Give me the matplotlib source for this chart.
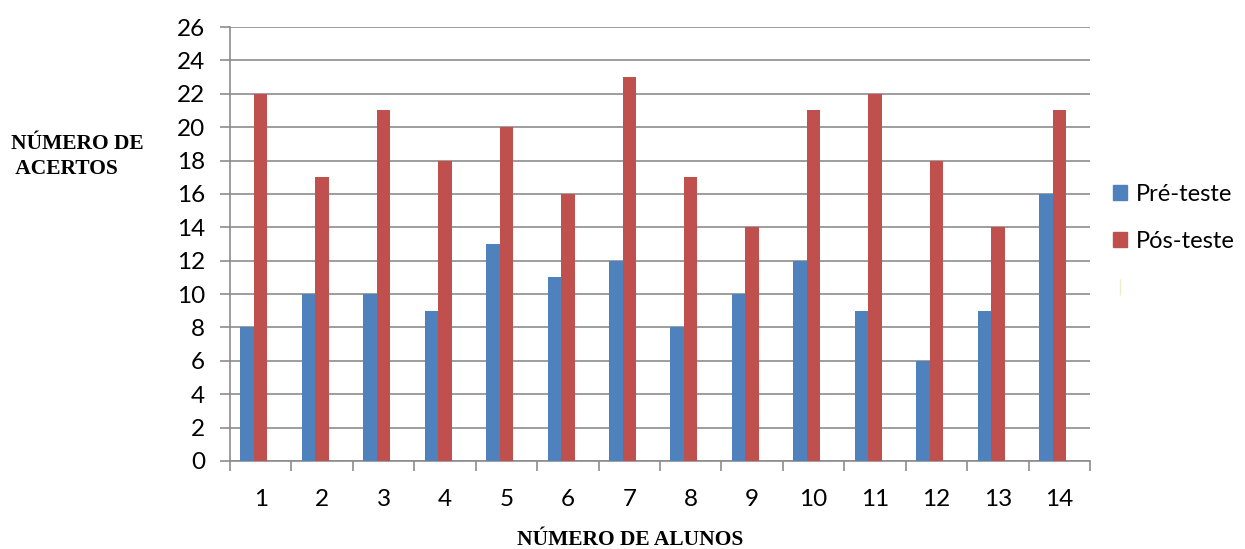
import matplotlib.pyplot as plt
from matplotlib.patches import Patch
from matplotlib.lines import Line2D

# data
alunos = list(range(1, 15))
pre_teste = [8, 10, 10, 9, 13, 11, 12, 8, 10, 12, 9, 6, 9, 16]
pos_teste = [22, 17, 21, 18, 20, 16, 23, 17, 14, 21, 22, 18, 14, 21]

blue = '#4F81BD'
red = '#C0504D'
grid_gray = '#8C8C8C'

fig = plt.figure(figsize=(12.45, 5.49), dpi=100)
ax = fig.add_axes([0.1847, 0.1603, 0.6908, 0.7905])

w = 0.22
ax.bar([a - w for a in alunos], pre_teste, width=w, color=blue, zorder=3)
ax.bar(alunos, pos_teste, width=w, color=red, zorder=3)

ax.set_xlim(0.5, 14.5)
ax.set_ylim(0, 26)
ax.set_yticks(range(0, 27, 2))
ax.set_xticks(alunos)
ax.set_xticks([a + 0.5 for a in range(0, 15)], minor=True)

ax.grid(axis='y', color=grid_gray, linewidth=1.2, zorder=0)
for s in ['top', 'right']:
    ax.spines[s].set_visible(False)
for s in ['left', 'bottom']:
    ax.spines[s].set_color(grid_gray)
    ax.spines[s].set_linewidth(1.2)

ax.tick_params(axis='y', length=7, color=grid_gray, width=1.2, labelsize=17.5, pad=11)
ax.tick_params(axis='x', which='major', length=0, labelsize=17.5, pad=20)
ax.tick_params(axis='x', which='minor', length=7, color=grid_gray, width=1.2)
for lab in ax.get_xticklabels() + ax.get_yticklabels():
    lab.set_fontfamily('Lato')

fig.text(0.009, 0.715, 'NÚMERO DE\n ACERTOS', fontfamily='Liberation Serif',
         fontweight='bold', fontsize=15.5, ha='left', va='center', linespacing=1.3)
fig.text(0.506, 0.016, 'NÚMERO DE ALUNOS', fontfamily='Liberation Serif',
         fontweight='bold', fontsize=15.5, ha='center', va='center')

handles = [Patch(color=blue), Patch(color=red),
           Line2D([], [], color='#F3EBC8', marker='|', linestyle='none', markersize=12)]
fig.legend(handles, ['Pré-teste', 'Pós-teste', ''], loc='center left',
           bbox_to_anchor=(0.877, 0.56), frameon=False,
           prop={'family': 'Lato', 'size': 17}, handlelength=0.6,
           handleheight=0.6, handletextpad=0.35, labelspacing=1.1)

fig.savefig('out.png', dpi=100)
